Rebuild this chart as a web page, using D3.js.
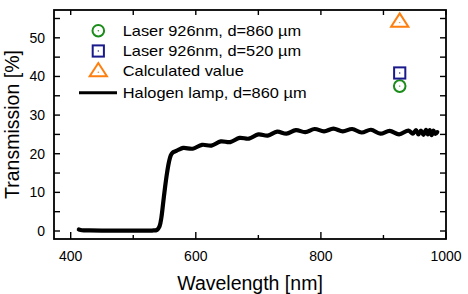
<!DOCTYPE html>
<html><head><meta charset="utf-8">
<script src="https://cdn.jsdelivr.net/npm/d3@7"></script>
<style>body{margin:0;background:#fff}svg{display:block}text{font-family:"Liberation Sans",Arial,sans-serif;fill:#000}</style>
</head><body>
<svg id="c" width="468" height="294"></svg>
<script>
// Halogen lamp spectrum (wavelength nm, transmission %)
const halogenWl = [413,418,430,450,480,510,530,538,542,545,548,551,554,557,560,563,567,572,580,595,610,625,640,655,670,685,700,715,730,745,760,775,790,805,820,835,850,865,880,895,910,925,940,947,952,956,960,964,968,971,974,977,980,983,986];
const halogenT  = [0.4,0.2,0.15,0.12,0.1,0.1,0.12,0.3,1.2,3.5,7.5,11.5,15.0,17.8,19.6,20.3,20.6,21.0,21.5,21.3,22.3,22.1,23.2,23.0,24.1,23.9,25.0,24.7,25.7,25.2,26.1,25.6,26.4,25.8,26.5,25.8,26.4,25.5,26.2,25.2,25.9,25.0,26.0,25.2,26.1,25.0,26.0,24.9,26.2,25.0,26.1,24.8,26.0,25.1,25.6];
// Point measurements
const laserWl = [926];
const laser860 = [37.5];
const laser520 = [40.9];
const calcValue = [54.2];
const xTicks = [400,600,800,1000];
const xMinor = [500,700,900];
const yTicks = [0,10,20,30,40,50];
const yMinor = [5,15,25,35,45,55];
const legendLabels = ["Laser 926nm, d=860 \u00b5m","Laser 926nm, d=520 \u00b5m","Calculated value","Halogen lamp, d=860 \u00b5m"];

const L=54,R=446,T=10,B=239;
const x=d3.scaleLinear().domain([373.3,1000]).range([L,R]);
const y=d3.scaleLinear().domain([-2.07,57.2]).range([B,T]);
const svg=d3.select("#c");
const green="#1a8c1a", navy="#1a1a8c", orange="#ff7f0e";

// curve
const pts=halogenWl.map((w,i)=>[w,halogenT[i]]);
svg.append("path").datum(pts)
  .attr("d",d3.line().x(d=>x(d[0])).y(d=>y(d[1])).curve(d3.curveCatmullRom.alpha(0.5)))
  .attr("fill","none").attr("stroke","#000").attr("stroke-width",4.2).attr("stroke-linejoin","round").attr("stroke-linecap","round");

// axes
const g=svg.append("g");
function tk(x1,y1,x2,y2){g.append("line").attr("x1",x1).attr("y1",y1).attr("x2",x2).attr("y2",y2).attr("stroke","#000").attr("stroke-width",1.4);}
xTicks.concat(xMinor).forEach(v=>{
  const maj=xTicks.includes(v), l=maj?7:4;
  tk(x(v),B,x(v),B-l); tk(x(v),T,x(v),T+5);
});
yTicks.concat(yMinor).forEach(v=>{
  tk(L,y(v),L+6,y(v)); tk(R,y(v),R-6,y(v));
});
g.append("rect").attr("x",L).attr("y",T).attr("width",R-L).attr("height",B-T).attr("fill","none").attr("stroke","#000").attr("stroke-width",1.8);

svg.selectAll(".xl").data(xTicks).enter().append("text").attr("x",d=>x(d)).attr("y",261).attr("text-anchor","middle").attr("font-size",14).text(d=>d);
svg.selectAll(".yl").data(yTicks).enter().append("text").attr("x",45).attr("y",d=>y(d)+5).attr("text-anchor","end").attr("font-size",14).text(d=>d);

svg.append("text").attr("x",(L+R)/2).attr("y",290).attr("text-anchor","middle").attr("font-size",19.5).text("Wavelength [nm]");
svg.append("text").attr("transform",`translate(19,${(T+B)/2}) rotate(-90)`).attr("text-anchor","middle").attr("font-size",19.5).text("Transmission [%]");

// markers
function circ(cx,cy,c){svg.append("circle").attr("cx",cx).attr("cy",cy).attr("r",5.8).attr("fill","none").attr("stroke",c).attr("stroke-width",2);
  svg.append("circle").attr("cx",cx).attr("cy",cy).attr("r",0.7).attr("fill",c);}
function sq(cx,cy,c){svg.append("rect").attr("x",cx-5.6).attr("y",cy-5.6).attr("width",11.2).attr("height",11.2).attr("fill","none").attr("stroke",c).attr("stroke-width",2);
  svg.append("circle").attr("cx",cx).attr("cy",cy).attr("r",0.7).attr("fill",c);}
function tri(cx,cy,c){const s=8.2;svg.append("path").attr("d",`M${cx},${cy-s}L${cx+s*1.05},${cy+s*0.62}L${cx-s*1.05},${cy+s*0.62}Z`).attr("fill","none").attr("stroke",c).attr("stroke-width",2).attr("stroke-linejoin","miter");
  svg.append("circle").attr("cx",cx).attr("cy",cy+1).attr("r",0.7).attr("fill",c);}

laserWl.forEach((w,i)=>{circ(x(w),y(laser860[i]),green); sq(x(w),y(laser520[i]),navy); tri(x(w),y(calcValue[i]),orange);});

// legend
const lx=98.3, rows=[30.7,51,71.2,92.7];
circ(lx,rows[0],green); sq(lx,rows[1],navy); tri(lx,rows[2],orange);
svg.append("line").attr("x1",79).attr("x2",117).attr("y1",rows[3]).attr("y2",rows[3]).attr("stroke","#000").attr("stroke-width",3);
legendLabels.forEach((t,i)=>{
  svg.append("text").attr("transform",`translate(122.7,${rows[i]+5.2}) scale(1.13,1)`).attr("font-size",14.5).text(t);
});
</script>
</body></html>
